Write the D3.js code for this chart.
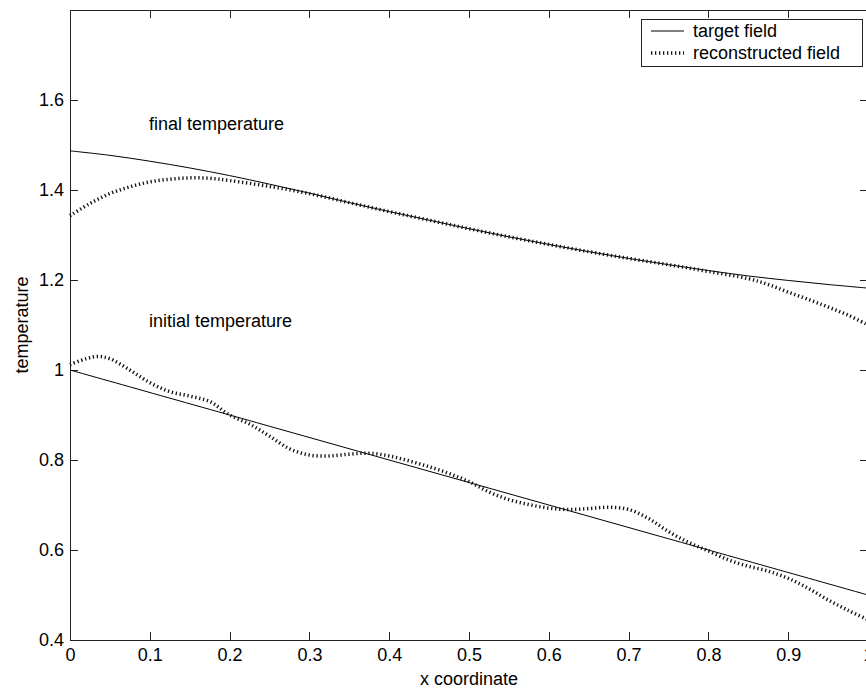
<!DOCTYPE html>
<html>
<head>
<meta charset="utf-8">
<script src="https://cdn.jsdelivr.net/npm/d3@7"></script>
<style>
  body { margin: 0; background: #fff; }
  svg { display: block; font-family: "Liberation Sans", Arial, sans-serif; }
  .axis path, .axis line { stroke: #222; shape-rendering: crispEdges; }
  .axis text { font-size: 18px; fill: #000; }
</style>
</head>
<body>
<div id="chart"></div>
<script>
// tick labels
var xTicks = [0, 0.1, 0.2, 0.3, 0.4, 0.5, 0.6, 0.7, 0.8, 0.9, 1];
var yTicks = [0.4, 0.6, 0.8, 1, 1.2, 1.4, 1.6];

// final temperature, target field
var finalTargetX = [0, 0.05, 0.1, 0.15, 0.2, 0.25, 0.3, 0.35, 0.4, 0.45, 0.5, 0.55, 0.6, 0.65, 0.7, 0.75, 0.8, 0.85, 0.9, 0.95, 1];
var finalTargetY = [1.487, 1.477, 1.464, 1.449, 1.432, 1.413, 1.393, 1.372, 1.352, 1.333, 1.314, 1.296, 1.279, 1.263, 1.248, 1.234, 1.221, 1.209, 1.199, 1.19, 1.182];

// final temperature, reconstructed field
var finalReconX = [0, 0.025, 0.05, 0.075, 0.1, 0.125, 0.15, 0.175, 0.2, 0.25, 0.3, 0.35, 0.4, 0.45, 0.5, 0.55, 0.6, 0.65, 0.7, 0.75, 0.8, 0.85, 0.875, 0.9, 0.925, 0.95, 0.975, 1];
var finalReconY = [1.343, 1.37, 1.392, 1.407, 1.418, 1.424, 1.427, 1.426, 1.421, 1.408, 1.392, 1.372, 1.352, 1.333, 1.314, 1.296, 1.279, 1.263, 1.248, 1.234, 1.219, 1.203, 1.19, 1.173, 1.157, 1.14, 1.122, 1.1];

// initial temperature, target field
var initTargetX = [0, 0.25, 0.5, 0.75, 1];
var initTargetY = [1.0, 0.875, 0.75, 0.625, 0.5];

// initial temperature, reconstructed field
var initReconX = [0, 0.02, 0.035, 0.05, 0.075, 0.1, 0.125, 0.15, 0.175, 0.2, 0.225, 0.25, 0.275, 0.3, 0.325, 0.35, 0.375, 0.4, 0.425, 0.45, 0.475, 0.5, 0.525, 0.55, 0.575, 0.6, 0.625, 0.65, 0.675, 0.7, 0.725, 0.75, 0.775, 0.8, 0.825, 0.85, 0.875, 0.9, 0.925, 0.95, 0.975, 1];
var initReconY = [1.012, 1.025, 1.03, 1.025, 1.0, 0.972, 0.952, 0.942, 0.93, 0.9, 0.88, 0.853, 0.825, 0.811, 0.809, 0.813, 0.815, 0.809, 0.798, 0.785, 0.77, 0.752, 0.729, 0.712, 0.701, 0.693, 0.69, 0.692, 0.695, 0.69, 0.67, 0.641, 0.617, 0.598, 0.578, 0.564, 0.553, 0.537, 0.515, 0.489, 0.466, 0.445];

var legendLabels = ["target field", "reconstructed field"];

var width = 866, height = 690;
var margin = { top: 10, left: 70 };
var plotW = 798, plotH = 630;

var svg = d3.select("#chart").append("svg")
    .attr("width", width)
    .attr("height", height);

var x = d3.scaleLinear().domain([0, 1]).range([margin.left, margin.left + plotW]);
var y = d3.scaleLinear().domain([0.4, 1.8]).range([margin.top + plotH, margin.top]);

function pairs(xs, ys) {
    return xs.map(function (d, i) { return [d, ys[i]]; });
}

var line = d3.line()
    .x(function (d) { return x(d[0]); })
    .y(function (d) { return y(d[1]); })
    .curve(d3.curveCatmullRom);

// axes, ticks pointing inward
svg.append("g")
    .attr("class", "axis")
    .attr("transform", "translate(0," + y(0.4) + ")")
    .call(d3.axisBottom(x).tickValues(xTicks).tickSizeInner(-8).tickSizeOuter(0).tickPadding(8)
        .tickFormat(d3.format("")));

svg.append("g")
    .attr("class", "axis")
    .attr("transform", "translate(" + x(0) + ",0)")
    .call(d3.axisLeft(y).tickValues(yTicks).tickSizeInner(-8).tickSizeOuter(0).tickPadding(6)
        .tickFormat(d3.format("")));

svg.append("g")
    .attr("class", "axis")
    .attr("transform", "translate(0," + y(1.8) + ")")
    .call(d3.axisTop(x).tickValues(xTicks).tickSizeInner(-8).tickSizeOuter(0).tickFormat(""));

svg.append("g")
    .attr("class", "axis")
    .attr("transform", "translate(" + x(1) + ",0)")
    .call(d3.axisRight(y).tickValues(yTicks).tickSizeInner(-8).tickSizeOuter(0).tickFormat(""));

// curves
var solid = [pairs(finalTargetX, finalTargetY), pairs(initTargetX, initTargetY)];
var dotted = [pairs(finalReconX, finalReconY), pairs(initReconX, initReconY)];

svg.selectAll(".target")
    .data(solid)
    .enter()
    .append("path")
    .attr("class", "target")
    .attr("d", line)
    .attr("fill", "none")
    .attr("stroke", "#000")
    .attr("stroke-width", 1);

svg.selectAll(".recon")
    .data(dotted)
    .enter()
    .append("path")
    .attr("class", "recon")
    .attr("d", line)
    .attr("fill", "none")
    .attr("stroke", "#111")
    .attr("stroke-width", 3.5)
    .attr("stroke-dasharray", "1.3,2.7");

// annotations
svg.append("text")
    .attr("x", 149).attr("y", 130)
    .style("font-size", "18px")
    .text("final temperature");

svg.append("text")
    .attr("x", 149).attr("y", 327)
    .style("font-size", "18px")
    .text("initial temperature");

// axis labels
svg.append("text")
    .attr("x", x(0.5)).attr("y", 685)
    .style("font-size", "18px")
    .style("text-anchor", "middle")
    .text("x coordinate");

svg.append("text")
    .attr("transform", "rotate(-90)")
    .attr("x", -(margin.top + plotH / 2))
    .attr("y", 28)
    .style("font-size", "18px")
    .style("text-anchor", "middle")
    .text("temperature");

// legend
var legend = svg.append("g").attr("transform", "translate(641,19)");
legend.append("rect")
    .attr("width", 221).attr("height", 47)
    .attr("fill", "#fff")
    .attr("stroke", "#222")
    .attr("shape-rendering", "crispEdges");

legend.selectAll("line.sample")
    .data(legendLabels)
    .enter()
    .append("line")
    .attr("class", "sample")
    .attr("x1", 10).attr("x2", 43)
    .attr("y1", function (d, i) { return 12 + i * 22; })
    .attr("y2", function (d, i) { return 12 + i * 22; })
    .attr("stroke", function (d, i) { return i === 0 ? "#000" : "#111"; })
    .attr("stroke-width", function (d, i) { return i === 0 ? 1 : 3.5; })
    .attr("stroke-dasharray", function (d, i) { return i === 0 ? null : "1.3,2.7"; });

legend.selectAll("text.label")
    .data(legendLabels)
    .enter()
    .append("text")
    .attr("class", "label")
    .attr("x", 52)
    .attr("y", function (d, i) { return 18 + i * 22; })
    .style("font-size", "18px")
    .text(function (d) { return d; });
</script>
</body>
</html>
